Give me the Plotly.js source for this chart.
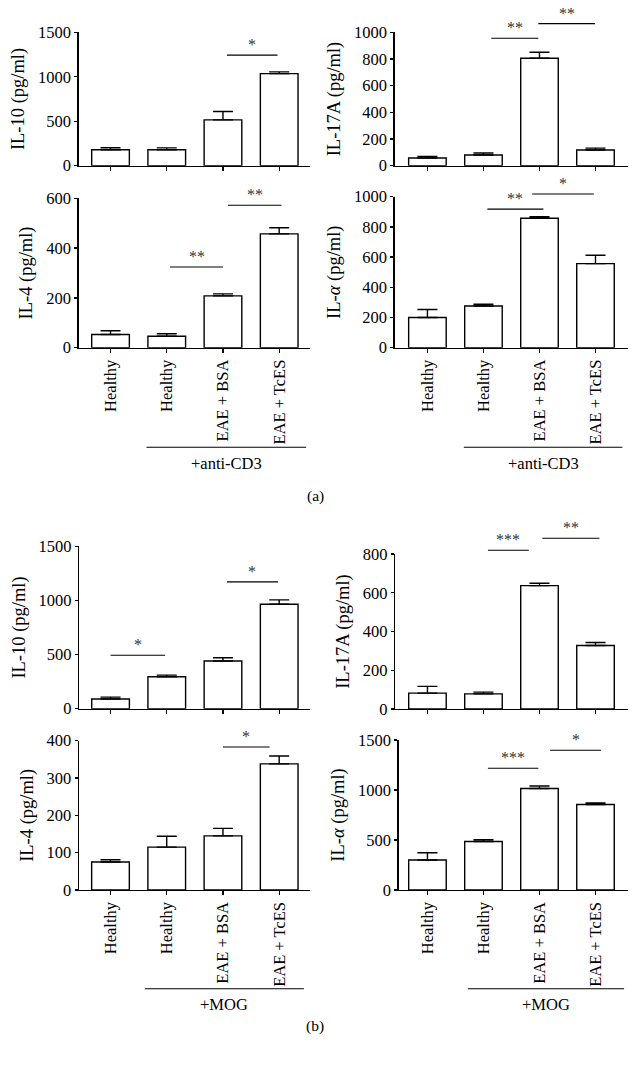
<!DOCTYPE html>
<html>
<head>
<meta charset="utf-8">
<script src="https://cdn.plot.ly/plotly-3.0.1.min.js"></script>
<style>html,body{margin:0;padding:0;background:#fff;}#chart{width:636px;height:1069px;}</style>
</head>
<body>
<div id="chart"></div>
<script>
// ---------- data ----------
const groups = ['Healthy', 'Healthy', 'EAE + BSA', 'EAE + TcES'];
const groupPos = [0, 1, 2, 3];

// (a) +anti-CD3
const aIL10 = [180, 180, 515, 1035];
const aIL10Err = [22, 20, 95, 20];
const aIL10Sig = [[2.07, 2.97, 1243, '*']];

const aIL17A = [58, 80, 806, 118];
const aIL17AErr = [12, 15, 45, 14];
const aIL17ASig = [[1.14, 1.98, 955, '**'], [1.98, 2.99, 1065, '**']];

const aIL4 = [53, 46, 208, 457];
const aIL4Err = [15, 10, 8, 25];
const aIL4Sig = [[1.06, 2.0, 324, '**'], [2.09, 3.04, 572, '**']];

const aILa = [200, 276, 857, 557];
const aILaErr = [53, 12, 10, 55];
const aILaSig = [[1.07, 2.07, 918, '**'], [1.87, 2.97, 1018, '*']];

// (b) +MOG
const bIL10 = [89, 295, 440, 965];
const bIL10Err = [18, 15, 30, 40];
const bIL10Sig = [[0.0, 0.97, 493, '*'], [2.07, 2.98, 1171, '*']];

const bIL17A = [82, 78, 637, 328];
const bIL17AErr = [35, 9, 12, 15];
const bIL17ASig = [[1.08, 1.81, 819, '***'], [2.05, 3.07, 881, '**']];

const bIL4 = [75, 115, 145, 338];
const bIL4Err = [6, 29, 20, 21];
const bIL4Sig = [[2.0, 2.83, 383, '*']];

const bILa = [300, 485, 1015, 855];
const bILaErr = [72, 18, 25, 15];
const bILaSig = [[1.08, 1.98, 1217, '***'], [2.19, 3.1, 1397, '*']];

const titles = ['IL-10 (pg/ml)', 'IL-17A (pg/ml)', 'IL-4 (pg/ml)', 'IL-<i>α</i> (pg/ml)'];
const stimA = '+anti-CD3';
const stimB = '+MOG';

// ---------- layout ----------
const W = 636, H = 1069;
const FONT = 'Liberation Serif, DejaVu Serif, serif';

const panels = [
  {v: aIL10, e: aIL10Err, s: aIL10Sig, t: titles[0], ymax: 1500, dtick: 500, box: [78.7, 310, 32.3, 165.7], xr: [-0.566, 3.548], lab: false},
  {v: aIL17A, e: aIL17AErr, s: aIL17ASig, t: titles[1], ymax: 1000, dtick: 200, box: [394.7, 628, 32.3, 165.7], xr: [-0.584, 3.58], lab: false},
  {v: aIL4, e: aIL4Err, s: aIL4Sig, t: titles[2], ymax: 600, dtick: 200, box: [78.7, 310, 198.3, 347.7], xr: [-0.566, 3.548], lab: true, grp: stimA, gy: 447.3, gty: 463, gx: [0.64, 3.48]},
  {v: aILa, e: aILaErr, s: aILaSig, t: titles[3], ymax: 1000, dtick: 200, box: [394.7, 628, 196.7, 347.7], xr: [-0.584, 3.58], lab: true, grp: stimA, gy: 447.3, gty: 463, gx: [0.65, 3.48]},
  {v: bIL10, e: bIL10Err, s: bIL10Sig, t: titles[0], ymax: 1500, dtick: 500, box: [79.3, 310, 546.3, 708.7], xr: [-0.556, 3.548], lab: false},
  {v: bIL17A, e: bIL17AErr, s: bIL17ASig, t: titles[1], ymax: 800, dtick: 200, box: [395.3, 628, 554, 709], xr: [-0.574, 3.58], lab: false},
  {v: bIL4, e: bIL4Err, s: bIL4Sig, t: titles[2], ymax: 400, dtick: 100, box: [79, 310, 740.7, 890], xr: [-0.56, 3.548], lab: true, grp: stimB, gy: 988.7, gty: 1004, gx: [0.61, 3.44]},
  {v: bILa, e: bILaErr, s: bILaSig, t: titles[3], ymax: 1500, dtick: 500, box: [398.7, 628, 740, 890], xr: [-0.513, 3.58], lab: true, grp: stimB, gy: 988.7, gty: 1004, gx: [0.72, 3.51]}
];

const traces = [];
const layout = {
  width: W, height: H,
  margin: {l: 0, r: 0, t: 0, b: 0},
  paper_bgcolor: '#fff', plot_bgcolor: 'rgba(0,0,0,0)',
  showlegend: false,
  font: {family: FONT, color: '#000', size: 16},
  shapes: [], annotations: []
};

panels.forEach((p, i) => {
  const n = i === 0 ? '' : String(i + 1);
  const xa = 'x' + n, ya = 'y' + n;
  traces.push({
    type: 'bar', x: groupPos, y: p.v, xaxis: xa, yaxis: ya, width: 0.67,
    marker: {color: '#fff', line: {color: '#000', width: 1.4}},
    error_y: {type: 'data', array: p.e, arrayminus: p.e.map(() => 0), symmetric: false,
              color: '#000', thickness: 1.4, width: 10},
    hoverinfo: 'skip'
  });
  layout['xaxis' + n] = {
    domain: [p.box[0] / W, p.box[1] / W], anchor: ya, range: p.xr, fixedrange: true,
    showgrid: false, zeroline: false, showline: true, linecolor: '#000', linewidth: 1.4,
    ticks: 'outside', ticklen: 4, tickwidth: 1.3, tickcolor: '#000',
    tickmode: 'array', tickvals: groupPos, ticktext: groups,
    showticklabels: p.lab, tickangle: -90, tickfont: {family: FONT, size: 16.5, color: '#000'}
  };
  layout['yaxis' + n] = {
    domain: [1 - p.box[3] / H, 1 - p.box[2] / H], anchor: xa, range: [0, p.ymax], fixedrange: true,
    showgrid: false, zeroline: false, showline: true, linecolor: '#000', linewidth: 1.4,
    ticks: 'outside', ticklen: 3, tickwidth: 1.3, tickcolor: '#000', dtick: p.dtick, tick0: 0,
    tickfont: {family: FONT, size: 16.5, color: '#000'},
    title: {text: p.t, font: {family: FONT, size: 18.5, color: '#000'}, standoff: 8}
  };
  p.s.forEach(s => {
    const yy = s[2] / p.ymax;
    layout.shapes.push({type: 'line', xref: xa, yref: ya + ' domain', x0: s[0], x1: s[1], y0: yy, y1: yy,
                        line: {color: '#000', width: 1.1}});
    layout.annotations.push({xref: xa, yref: ya + ' domain', x: (s[0] + s[1]) / 2, y: yy, text: s[3],
                             showarrow: false, yanchor: 'bottom', yshift: 0,
                             font: {family: FONT, size: 16, color: '#333'}});
  });
  if (p.grp) {
    layout.shapes.push({type: 'line', xref: xa, yref: 'paper', x0: p.gx[0], x1: p.gx[1],
                        y0: 1 - p.gy / H, y1: 1 - p.gy / H, line: {color: '#000', width: 1.1}});
    layout.annotations.push({xref: xa, yref: 'paper', x: (p.gx[0] + p.gx[1]) / 2, y: 1 - p.gty / H,
                             text: p.grp, showarrow: false, xanchor: 'center', yanchor: 'middle',
                             font: {family: FONT, size: 16.5, color: '#000'}});
  }
});

layout.annotations.push({xref: 'paper', yref: 'paper', x: 315 / W, y: 1 - 496 / H, text: '(a)',
                         showarrow: false, font: {family: FONT, size: 15.5, color: '#000'}});
layout.annotations.push({xref: 'paper', yref: 'paper', x: 315 / W, y: 1 - 1037 / H, text: '(b)',
                         showarrow: false, font: {family: FONT, size: 15.5, color: '#000'}});

Plotly.newPlot('chart', traces, layout, {staticPlot: true, displayModeBar: false});
</script>
</body>
</html>
